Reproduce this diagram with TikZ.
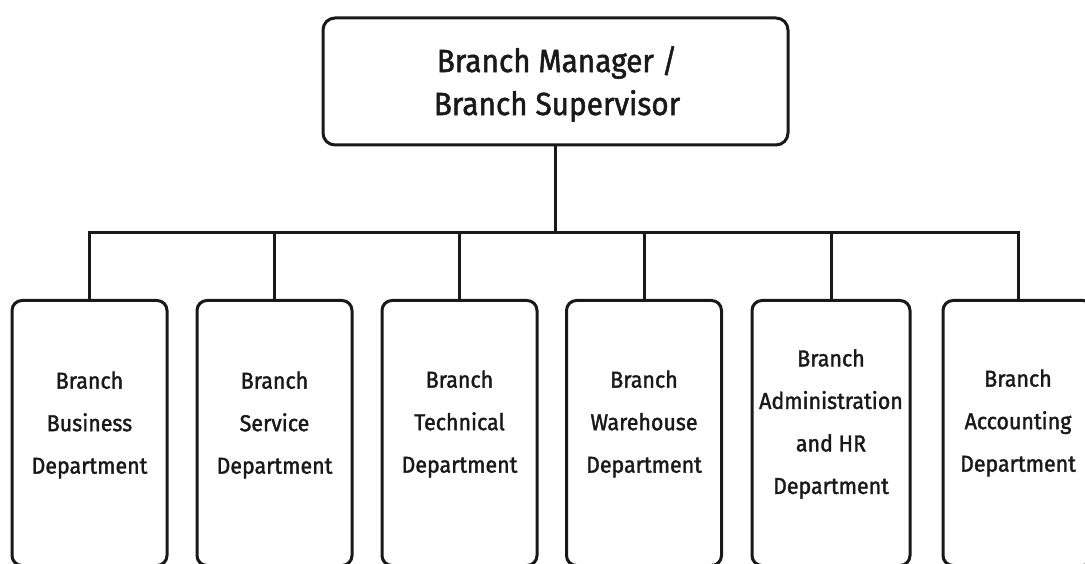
\documentclass[tikz,border=0pt]{standalone}
\usepackage{fontspec}
\setmainfont{Fira Sans}[FakeBold=1.6, FakeStretch=0.93]
\begin{document}
\begin{tikzpicture}[x=1pt,y=-1pt,
  conn/.style={line width=3pt, draw=black!90},
  topbox/.style={draw=black!90, line width=3pt, rounded corners=12pt, minimum width=465pt, minimum height=127pt, inner sep=0pt},
  deptbox/.style={draw=black!90, line width=3pt, rounded corners=10pt, minimum width=155pt, minimum height=265pt, inner sep=0pt},
  toptext/.style={align=center, font=\fontsize{32}{43}\selectfont, text=black!90},
  depttext/.style={align=center, font=\fontsize{23}{42.5}\selectfont, text=black!90}
]
\useasboundingbox (0,0) rectangle (1085,564);
\clip (0,0) rectangle (1085,564);
\node[topbox] (top) at (555.5,81.5) {};
\node[toptext] (toptxt) at (557,84) {Branch Manager /\\Branch Supervisor};
\coordinate (bar) at (0,233);
\node[deptbox] (b1) at (89.5,433) {};
\node[deptbox] (b2) at (274.5,433) {};
\node[deptbox] (b3) at (459.5,433) {};
\node[deptbox] (b4) at (644,433) {};
\node[deptbox, minimum width=158pt] (b5) at (831,433) {};
\node[deptbox, minimum width=150pt] (b6) at (1018,433) {};
\node[depttext] (t1) at (89.5,425) {Branch\\Business\\Department};
\node[depttext] (t2) at (274.5,425) {Branch\\Service\\Department};
\node[depttext] (t3) at (459.5,424) {Branch\\Technical\\Department};
\node[depttext] (t4) at (644,424) {Branch\\Warehouse\\Department};
\node[depttext] (t5) at (831,424) {Branch\\Administration\\and HR\\Department};
\node[depttext] (t6) at (1018,423) {Branch\\Accounting\\Department};
\draw[conn] (top.south) -- (top.south |- bar);
\draw[conn] (b1.north) -- (b1.north |- bar) -- (b6.north |- bar) -- (b6.north);
\draw[conn] (b2.north) -- (b2.north |- bar);
\draw[conn] (b3.north) -- (b3.north |- bar);
\draw[conn] (b4.north) -- (b4.north |- bar);
\draw[conn] (b5.north) -- (b5.north |- bar);
\end{tikzpicture}
\end{document}
